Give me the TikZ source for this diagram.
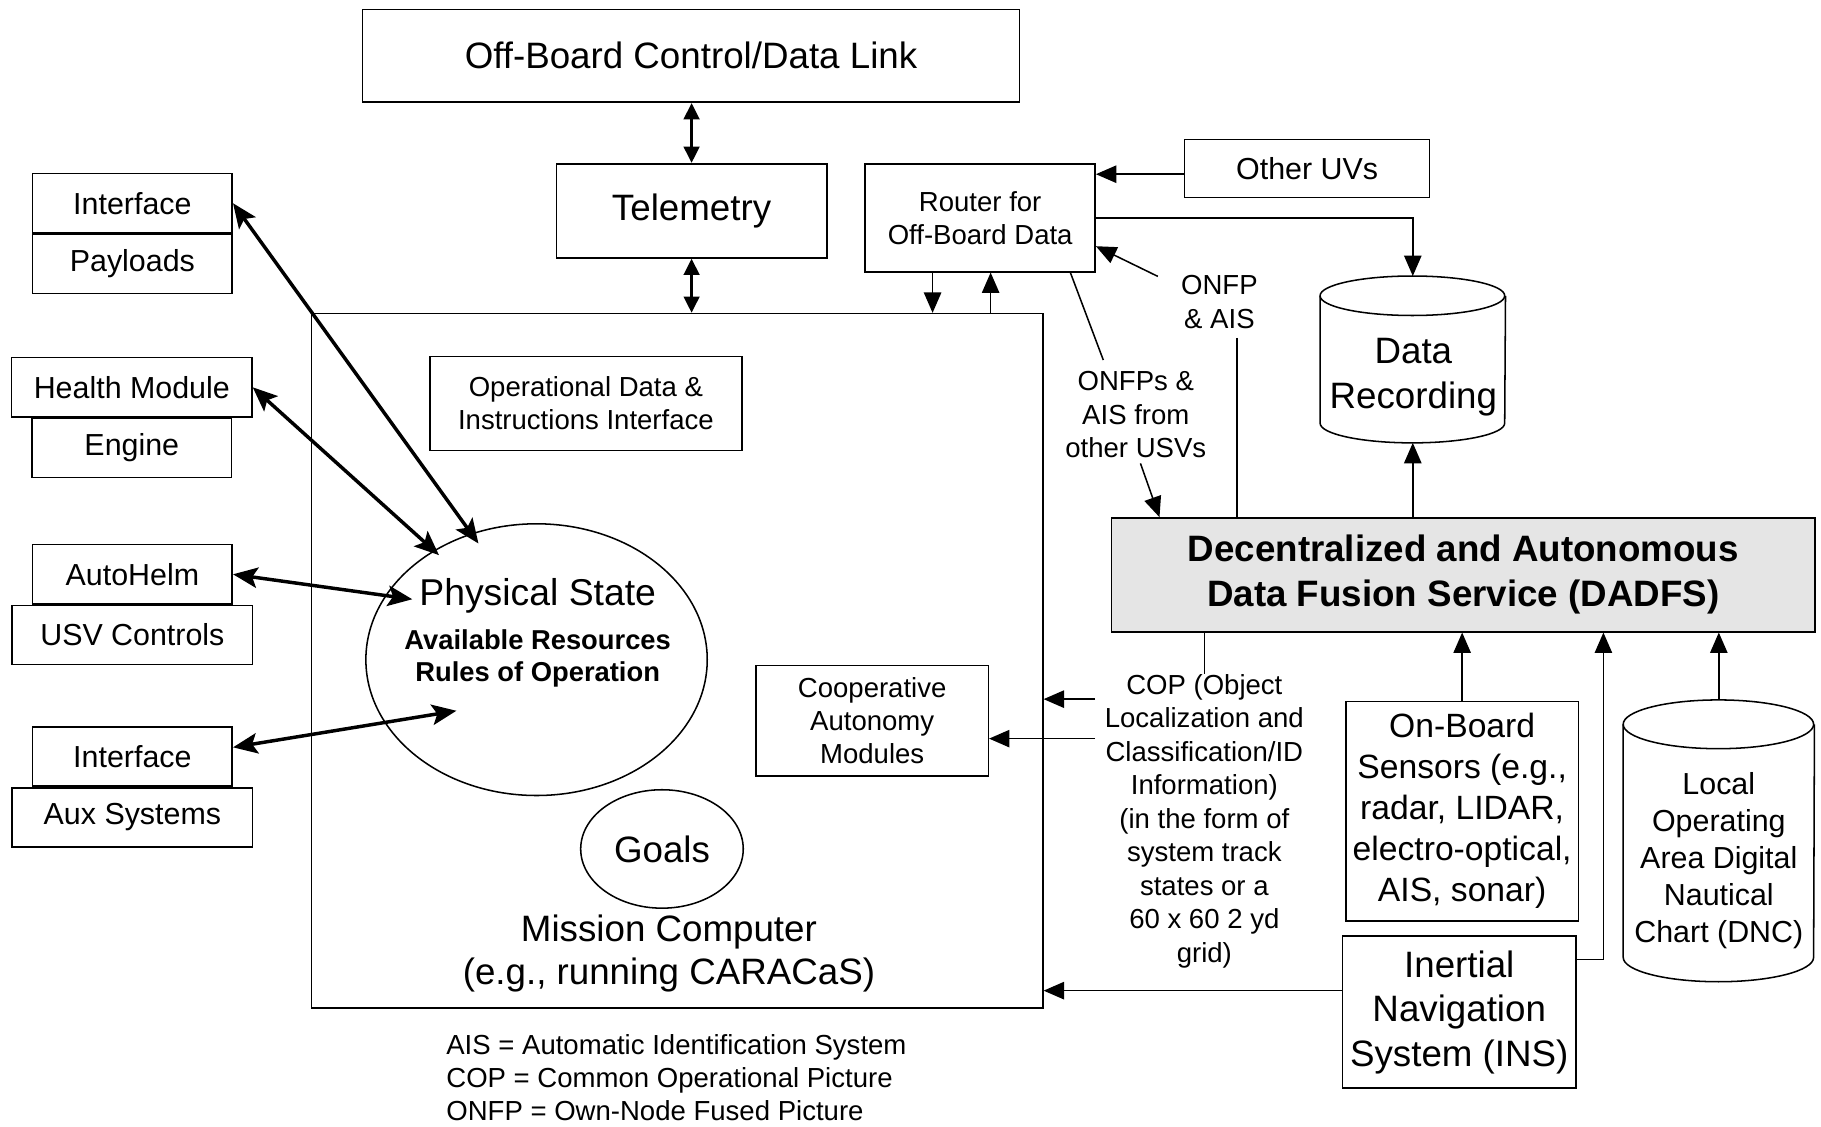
\documentclass[tikz,border=0pt]{standalone}
\usepackage{fontspec}
\setmainfont{Liberation Sans}
\usetikzlibrary{arrows.meta,positioning,shapes.geometric}

\tikzset{
  t18/.style={font=\fontsize{18}{21.8}\selectfont},
  t16/.style={font=\fontsize{16.5}{20.1}\selectfont},
  t15/.style={font=\fontsize{14.9}{18.1}\selectfont},
  t13/.style={font=\fontsize{13.5}{16.2}\selectfont},
  box/.style={draw,line width=0.75pt,inner sep=0pt,align=center},
  lbl/.style={inner sep=0pt,align=center},
  ln/.style={line width=0.75pt},
  arr/.style={line width=0.75pt,-{Triangle[length=10pt,width=8.5pt]}},
  dbl/.style={line width=1.7pt,{Triangle[length=8pt,width=7.5pt]}-{Triangle[length=8pt,width=7.5pt]}},
  sarr/.style={line width=1.7pt,{Stealth[length=12pt,width=10pt,inset=2.5pt]}-{Stealth[length=12pt,width=10pt,inset=2.5pt]}}
}

\begin{document}
\begin{tikzpicture}[x=0.02cm,y=-0.02cm]
  \useasboundingbox (0,0) rectangle (1568,970);

  \node[box,t18,minimum width=11.32cm,minimum height=1.6cm] at (595,48) (ob) {Off-Board Control/Data Link};
  \node[box,t18,minimum width=4.66cm,minimum height=1.62cm] at (595.5,181.5) (tel) {Telemetry};
  \node[box,t13,minimum width=3.96cm,minimum height=1.86cm] at (844,187.5) (rtr) {Router for\\Off-Board Data};
  \node[box,t15,minimum width=4.22cm,minimum height=1cm] at (1125.5,145) (ouv) {Other UVs};
  \node[box,minimum width=12.6cm,minimum height=11.96cm] at (583,569) (mc) {};

  \node[box,t15,minimum width=3.44cm,minimum height=1.02cm] at (114,175) (if1) {Interface};
  \node[box,t15,minimum width=3.44cm,minimum height=1.02cm,below=0cm of if1] (pay) {Payloads};
  \node[box,t15,minimum width=4.14cm,minimum height=1.02cm] at (113.5,333.5) (hm) {Health Module};
  \node[box,t15,minimum width=3.44cm,minimum height=1.02cm,below=0cm of hm] (eng) {Engine};
  \node[box,t15,minimum width=3.44cm,minimum height=1.02cm] at (114,494.5) (ah) {AutoHelm};
  \node[box,t15,minimum width=4.14cm,minimum height=1.02cm,below=0cm of ah] (usv) {USV Controls};
  \node[box,t15,minimum width=3.44cm,minimum height=1.02cm] at (114,651.5) (if2) {Interface};
  \node[box,t15,minimum width=4.14cm,minimum height=1.02cm,below=0cm of if2] (aux) {Aux Systems};

  \node[box,t13,minimum width=5.38cm,minimum height=1.62cm] at (504.5,347.5) (odi) {Operational Data \&\\Instructions Interface};
  \node[draw,ellipse,line width=0.75pt,minimum width=5.88cm,minimum height=4.68cm] at (462,568) (ps) {};
  \node[lbl,font=\fontsize{18.3}{22}\selectfont] at (463,513) (pst) {Physical State};
  \node[lbl,font=\fontsize{13.4}{15.9}\selectfont\bfseries] at (463,567) (psr) {Available Resources\\Rules of Operation};
  \node[box,t13,minimum width=4cm,minimum height=1.9cm] at (751,620.5) (coop) {Cooperative\\Autonomy\\Modules};
  \node[draw,ellipse,line width=0.75pt,t18,minimum width=2.8cm,minimum height=2.04cm] at (570,731) (gl) {Goals};
  \node[lbl,font=\fontsize{18}{21.5}\selectfont] at (576,821) (mcl) {Mission Computer\\(e.g., running CARACaS)};

  \node[lbl,minimum width=3.18cm,minimum height=2.86cm] at (1216.5,309.5) (rec) {};
  \node[lbl,font=\fontsize{18}{22.1}\selectfont] at (1217,325) (rect) {Data\\Recording};
  \draw[ln] ([yshift=-0.34cm]rec.north west) arc[start angle=180,end angle=-180,x radius=1.59cm,y radius=0.34cm];
  \draw[ln] ([yshift=-0.34cm]rec.north west) -- ([yshift=0.34cm]rec.south west) arc[start angle=180,end angle=360,x radius=1.59cm,y radius=0.34cm] -- ([yshift=-0.34cm]rec.north east);

  \node[box,fill=black!10,font=\fontsize{18}{22.1}\selectfont\bfseries,minimum width=12.12cm,minimum height=1.96cm] at (1260,495) (dadfs) {Decentralized and Autonomous\\Data Fusion Service (DADFS)};

  \node[lbl,font=\fontsize{13.5}{17}\selectfont] at (1050,260) (onfp) {ONFP\\\& AIS};
  \node[lbl,font=\fontsize{13.5}{16.4}\selectfont] at (978,357) (onfps) {ONFPs \&\\AIS from\\other USVs};
  \node[lbl,font=\fontsize{13.5}{16.4}\selectfont] at (1037,707) (cop) {COP (Object\\Localization and\\Classification/ID\\Information)\\(in the form of\\system track\\states or a\\60 x 60 2 yd\\grid)};

  \node[box,t16,minimum width=4cm,minimum height=3.78cm] at (1259,698.5) (obs) {On-Board\\Sensors (e.g.,\\radar, LIDAR,\\electro-optical,\\AIS, sonar)};
  \node[box,t18,minimum width=4.02cm,minimum height=2.62cm] at (1256.5,871.5) (ins) {Inertial\\Navigation\\System (INS)};

  \node[lbl,minimum width=3.28cm,minimum height=4.84cm] at (1480,724) (dnc) {};
  \node[lbl,t15] at (1480,741) (dnct) {Local\\Operating\\Area Digital\\Nautical\\Chart (DNC)};
  \draw[ln] ([yshift=-0.42cm]dnc.north west) arc[start angle=180,end angle=-180,x radius=1.64cm,y radius=0.42cm];
  \draw[ln] ([yshift=-0.42cm]dnc.north west) -- ([yshift=0.42cm]dnc.south west) arc[start angle=180,end angle=360,x radius=1.64cm,y radius=0.42cm] -- ([yshift=-0.42cm]dnc.north east);

  \node[lbl,anchor=west,align=left,font=\fontsize{13.5}{16.2}\selectfont] at (384,928) (leg) {AIS = Automatic Identification System\\COP = Common Operational Picture\\ONFP = Own-Node Fused Picture};

  \coordinate (ps1) at (412,468);
  \coordinate (ps2) at (378,478);
  \coordinate (ps3) at (355,516);
  \coordinate (ps4) at (393,612);
  \coordinate (onfpa) at (997,238);
  \coordinate (onfpb) at (1065,291);
  \coordinate (onfpsa) at (950,310);
  \coordinate (onfpsb) at (982,399);
  \coordinate (copa) at (943,602);
  \coordinate (copb) at (943,636);

  \draw[dbl] (tel.north |- ob.south) -- (tel.north);
  \draw[dbl] (tel.south) -- (tel.south |- mc.north);
  \draw[arr] ([xshift=-0.82cm]rtr.south) -- ([xshift=-0.82cm]rtr.south |- mc.north);
  \draw[arr] ([xshift=0.18cm]rtr.south |- mc.north) -- ([xshift=0.18cm]rtr.south);
  \draw[arr] ([yshift=-0.1cm]ouv.west) -- ([yshift=-0.1cm]ouv.west -| rtr.east);
  \draw[arr] (rtr.east) -| (rec.north);
  \draw[arr] (onfpa) -- ([yshift=-0.49cm]rtr.east);
  \draw[ln] (onfpb) -- (onfpb |- dadfs.north);
  \draw[ln] ([xshift=-0.44cm]rtr.south east) -- (onfpsa);
  \draw[arr] (onfpsb) -- ([xshift=0.84cm]dadfs.north west);
  \draw[arr] (dadfs.north -| rec.south) -- (rec.south);
  \draw[ln] (cop.north |- dadfs.south) -- (cop.north);
  \draw[arr] (copa) -- (copa -| mc.east);
  \draw[arr] (copb) -- (copb -| coop.east);
  \draw[arr] (obs.north) -- (obs.north |- dadfs.south);
  \draw[arr] (dnc.north) -- (dnc.north |- dadfs.south);
  \draw[arr] ([yshift=0.91cm]ins.east) -| ([xshift=0.46cm]ins.east |- dadfs.south);
  \draw[arr] ([yshift=0.37cm]ins.west) -- ([yshift=0.37cm]ins.west -| mc.east);

  \draw[sarr] (if1.east) -- (ps1);
  \draw[sarr] (hm.east) -- (ps2);
  \draw[sarr] (ah.east) -- (ps3);
  \draw[sarr] ([yshift=0.16cm]if2.east) -- (ps4);
\end{tikzpicture}
\end{document}
